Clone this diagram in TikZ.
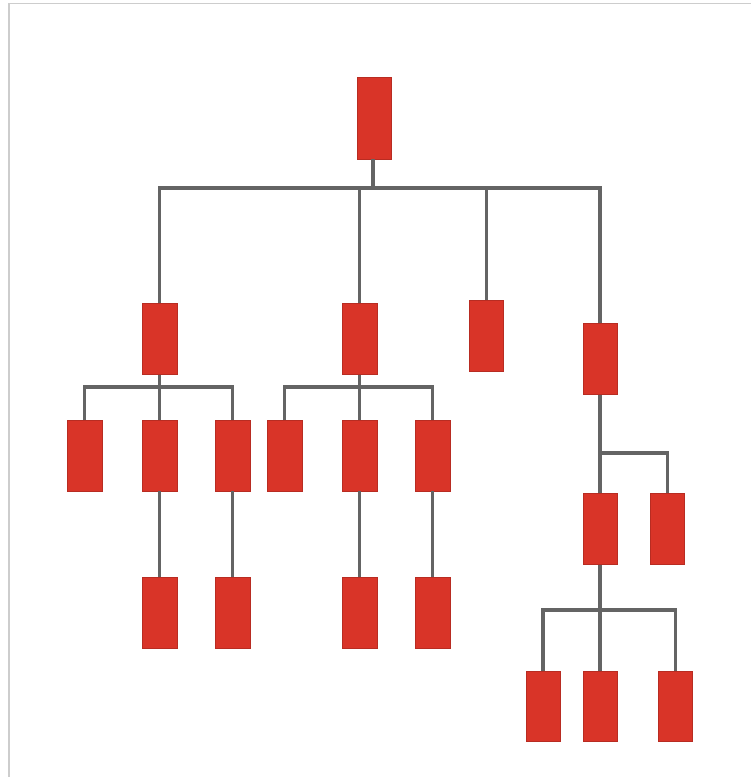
\documentclass[tikz,border=0pt]{standalone}
\usetikzlibrary{calc}
\definecolor{boxred}{RGB}{217,52,40}
\definecolor{linkgray}{RGB}{100,100,100}
\definecolor{framegray}{RGB}{205,205,205}
\tikzset{
  box/.style={rectangle, fill=boxred, draw=boxred!85!black, line width=0.6pt, minimum width=35pt, minimum height=71pt, inner sep=0pt},
  link/.style={draw=linkgray, line width=3.5pt, line cap=butt},
}
\begin{document}
\begin{tikzpicture}[x=1pt,y=-1pt]
\useasboundingbox (0,0) rectangle (751,777);
\fill[white] (0,0) rectangle (751,777);
\draw[framegray, line width=1.2pt] (9,777) -- (9,3.5) -- (751,3.5);

% nodes
\node[box, minimum width=34pt, minimum height=82pt] (root) at (374,118) {};
\node[box] (A) at (159.5,339) {};
\node[box] (B) at (359.5,339) {};
\node[box, minimum width=34pt] (C) at (486.5,335.5) {};
\node[box, minimum width=34pt] (D) at (600,359) {};

\node[box] (A1) at (84.5,455.5) {};
\node[box] (A2) at (159.5,455.5) {};
\node[box] (A3) at (232.5,455.5) {};
\node[box] (A2a) at (159.5,612.5) {};
\node[box] (A3a) at (232.5,612.5) {};

\node[box] (B1) at (284.5,455.5) {};
\node[box] (B2) at (359.5,455.5) {};
\node[box] (B3) at (432.5,455.5) {};
\node[box] (B2a) at (359.5,612.5) {};
\node[box] (B3a) at (432.5,612.5) {};

\node[box, minimum width=34pt] (D1) at (600,529) {};
\node[box, minimum width=34pt] (D2) at (667.5,528.5) {};
\node[box, minimum width=34pt, minimum height=70pt] (E1) at (543,706.5) {};
\node[box, minimum width=34pt, minimum height=70pt] (E2) at (600,706.5) {};
\node[box, minimum width=34pt, minimum height=70pt] (E3) at (675.5,706.5) {};

% junctions
\coordinate (jr) at (373,188);
\coordinate (jA) at (159.5,387);
\coordinate (jB) at (359.5,387);
\coordinate (jD) at (600,453);
\coordinate (jD1) at (600,610);

% connectors
\draw[link] (root.south -| jr) -- (jr);
\draw[link] (A.north) |- (jr) -| (D.north);
\draw[link] (jr -| B.north) -- (B.north);
\draw[link] (jr -| C.north) -- (C.north);

\draw[link] (A.south) -- (jA);
\draw[link] (A1.north) |- (jA) -| (A3.north);
\draw[link] (jA) -- (A2.north);
\draw[link] (A2.south) -- (A2a.north);
\draw[link] (A3.south) -- (A3a.north);

\draw[link] (B.south) -- (jB);
\draw[link] (B1.north) |- (jB) -| (B3.north);
\draw[link] (jB) -- (B2.north);
\draw[link] (B2.south) -- (B2a.north);
\draw[link] (B3.south) -- (B3a.north);

\draw[link] (D.south) -- (jD) -- (D1.north);
\draw[link] (jD) -| (D2.north);
\draw[link] (D1.south) -- (jD1);
\draw[link] (E1.north) |- (jD1) -| (E3.north);
\draw[link] (jD1) -- (E2.north);
\end{tikzpicture}
\end{document}
